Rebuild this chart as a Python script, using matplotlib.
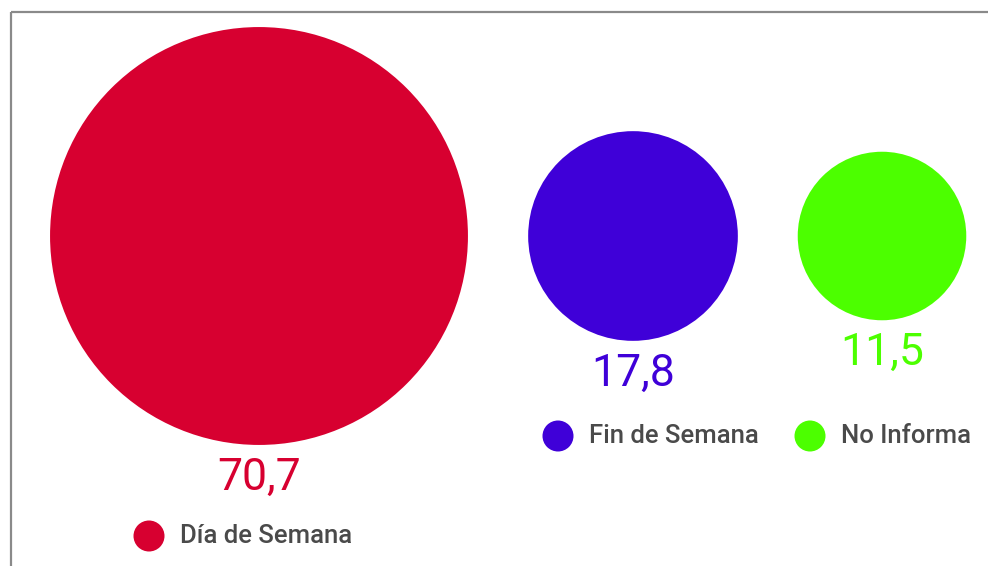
import numpy as np
import matplotlib.pyplot as plt
from matplotlib.patches import Circle

plt.rcParams['font.family'] = ['Roboto', 'DejaVu Sans']

# datos
categorias = ['Día de Semana', 'Fin de Semana', 'No Informa']
valores = [70.7, 17.8, 11.5]
etiquetas = ['70,7', '17,8', '11,5']
colores = ['#D70030', '#3F00D8', '#4CFF00']

# layout en pixeles
W, H = 988, 566
centros_x = [259, 633, 882]
centro_y = 236
escala = 24.85  # radio = escala * sqrt(valor)
leyenda_pos = [(149, 536), (558, 436), (810, 436)]

fig = plt.figure(figsize=(W / 100, H / 100), dpi=100)
ax = fig.add_axes([0, 0, 1, 1])
ax.set_xlim(0, W)
ax.set_ylim(H, 0)
ax.set_aspect('equal')
ax.axis('off')

# marco gris (arriba e izquierda)
ax.plot([11, W], [12, 12], color='#8a8a8a', lw=1.6, solid_capstyle='butt')
ax.plot([11, 11], [12, H], color='#8a8a8a', lw=1.6, solid_capstyle='butt')

for cx, v, lab, col in zip(centros_x, valores, etiquetas, colores):
    r = escala * np.sqrt(v)
    ax.add_patch(Circle((cx, centro_y), r, color=col, lw=0))
    ax.text(cx, centro_y + r + 45, lab, color=col, fontsize=32,
            ha='center', va='baseline')

for (lx, ly), cat, col in zip(leyenda_pos, categorias, colores):
    ax.add_patch(Circle((lx, ly), 15.5, color=col, lw=0))
    ax.text(lx + 31, ly + 7, cat, color='#4a4a4a', fontsize=18.5,
            fontweight='medium', ha='left', va='baseline')

plt.savefig('out.png', dpi=100)
